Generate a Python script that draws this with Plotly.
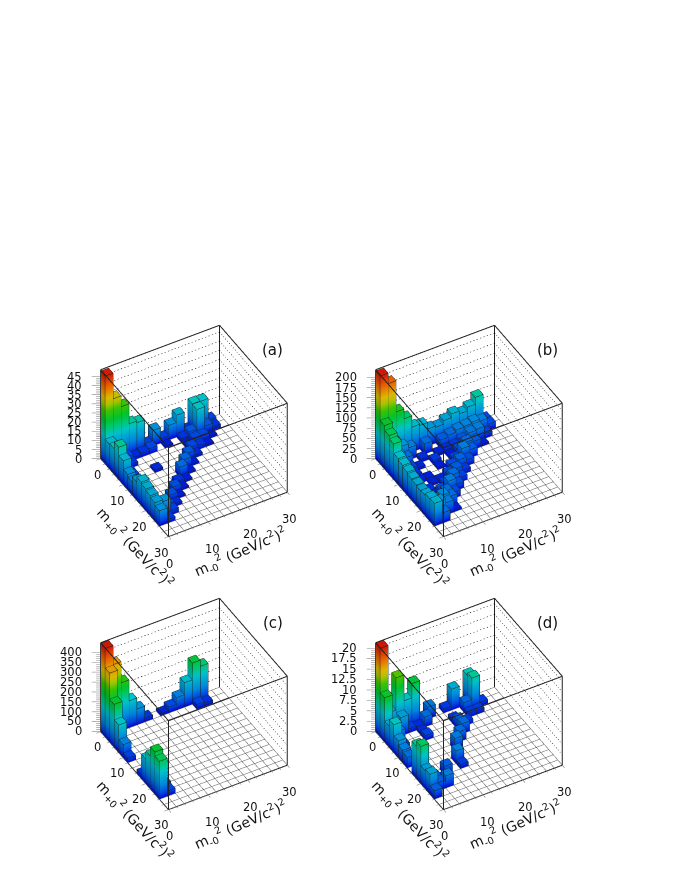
import math
import plotly.graph_objects as go

W, H = 674, 872
BIN = 2.0
N = 15

ZMAX_A, ZMAX_B, ZMAX_C, ZMAX_D = 48.7, 218.8, 448.0, 21.3
ZT_A = [0, 5, 10, 15, 20, 25, 30, 35, 40, 45]
ZT_B = [0, 25, 50, 75, 100, 125, 150, 175, 200]
ZT_C = [0, 50, 100, 150, 200, 250, 300, 350, 400]
ZT_D = [0, 2.5, 5, 7.5, 10, 12.5, 15, 17.5, 20]
AXIS_TICKS = [0, 10, 20, 30]
TAGS = ["(a)", "(b)", "(c)", "(d)"]

# rows: m+0 bin, columns: m-0 bin
H_A = [
 [48, 34, 28, 17, 16, 2.5, 8.5, 2.5, 8, 12, 2, 15, 14.7, 3, 0],
 [13.5, 5, 3, 1.5, 2, 3, 0, 1, 0, 2, 4, 14.7, 4, 2, 0],
 [14, 4, 2, 0, 0, 0, 0, 0, 0, 1, 3, 3, 1, 0, 0],
 [17.6, 3, 0, 0, 0, 0, 0, 0, 0, 3, 2, 1, 0, 0, 0],
 [13, 3, 0, 0, 1.5, 0, 0, 0, 4, 1.5, 0, 0, 0, 0, 0],
 [8.4, 2, 0, 0, 0, 0, 0, 5, 1, 0, 0, 0, 0, 0, 0],
 [7, 1, 0, 0, 0, 0, 5.5, 1, 0, 0, 0, 0, 0, 0, 0],
 [10, 1, 0, 0, 0, 2, 1, 0, 0, 0, 0, 0, 0, 0, 0],
 [12.7, 1, 0, 0, 3.5, 1, 0, 0, 0, 0, 0, 0, 0, 0, 0],
 [11.8, 1, 0, 3.5, 1, 0, 0, 0, 0, 0, 0, 0, 0, 0, 0],
 [11, 2, 3, 1.5, 0, 0, 0, 0, 0, 0, 0, 0, 0, 0, 0],
 [10, 9, 2.5, 0, 0, 0, 0, 0, 0, 0, 0, 0, 0, 0, 0],
 [8.4, 2, 0, 0, 0, 0, 0, 0, 0, 0, 0, 0, 0, 0, 0],
 [0]*15, [0]*15,
]
H_B = [
 [216, 190, 113, 89, 61, 58, 42, 39, 48, 57, 50, 59, 76, 14, 0],
 [107, 60, 40, 30, 0, 25, 0, 20, 25, 30, 32, 35, 30, 15, 0],
 [95, 40, 25, 0, 8, 0, 6, 8, 10, 18, 28, 30, 12, 0, 0],
 [87, 28, 12, 6, 0, 10, 0, 5, 15, 25, 20, 5, 0, 0, 0],
 [64, 20, 8, 0, 0, 5, 0, 12, 30, 20, 0, 0, 0, 0, 0],
 [60, 18, 6, 5, 0, 0, 15, 22, 15, 0, 0, 0, 0, 0, 0],
 [56, 15, 0, 5, 6, 15, 20, 10, 0, 0, 0, 0, 0, 0, 0],
 [52, 12, 8, 0, 12, 25, 12, 0, 0, 0, 0, 0, 0, 0, 0],
 [50, 10, 6, 15, 30, 15, 0, 0, 0, 0, 0, 0, 0, 0, 0],
 [48, 15, 15, 25, 15, 0, 0, 0, 0, 0, 0, 0, 0, 0, 0],
 [50, 30, 35, 25, 0, 0, 0, 0, 0, 0, 0, 0, 0, 0, 0],
 [55, 40, 30, 5, 0, 0, 0, 0, 0, 0, 0, 0, 0, 0, 0],
 [56, 25, 0, 0, 0, 0, 0, 0, 0, 0, 0, 0, 0, 0, 0],
 [0]*15, [0]*15,
]
H_C = [
 [445, 349, 242, 136, 80, 20, 0, 12, 30, 63, 123, 207, 176, 0, 0],
 [347, 0, 0, 0, 0, 0, 0, 0, 0, 0, 0, 25, 18, 0, 0],
 [216, 0, 0, 0, 0, 0, 0, 0, 0, 0, 0, 0, 0, 0, 0],
 [138, 0, 0, 0, 0, 0, 0, 0, 0, 0, 0, 0, 0, 0, 0],
 [65, 0, 0, 0, 0, 0, 0, 0, 0, 0, 0, 0, 0, 0, 0],
 [23, 0, 0, 0, 0, 0, 0, 0, 0, 0, 0, 0, 0, 0, 0],
 [0]*15, [0]*15,
 [20, 0, 0, 0, 0, 0, 0, 0, 0, 0, 0, 0, 0, 0, 0],
 [123, 0, 0, 0, 0, 0, 0, 0, 0, 0, 0, 0, 0, 0, 0],
 [165, 0, 0, 0, 0, 0, 0, 0, 0, 0, 0, 0, 0, 0, 0],
 [212, 35, 0, 0, 0, 0, 0, 0, 0, 0, 0, 0, 0, 0, 0],
 [191, 25, 0, 0, 0, 0, 0, 0, 0, 0, 0, 0, 0, 0, 0],
 [0]*15, [0]*15,
]
H_D = [
 [21.2, 5, 12.7, 6.5, 9.9, 0, 2.8, 0, 1, 5, 0, 6.9, 0, 0, 0],
 [10.6, 3, 4.4, 1, 0.7, 2.4, 0, 0, 0, 0, 2.3, 7.5, 1, 0, 0],
 [5, 3, 0, 0, 0.7, 0, 0, 0, 1, 0, 1, 1, 0, 0, 0],
 [6.6, 1, 0, 0, 1.2, 0, 0, 0, 2, 1, 0, 0, 0, 0, 0],
 [4, 0, 0, 0, 0, 0, 0, 0, 2.4, 0, 0, 0, 0, 0, 0],
 [3, 0, 0, 0, 0, 0, 0, 2.4, 0, 0, 0, 0, 0, 0, 0],
 [2.5, 0, 0, 0, 0, 0, 2.8, 0, 0, 0, 0, 0, 0, 0, 0],
 [0, 0, 0, 0, 0, 0, 0, 0, 0, 0, 0, 0, 0, 0, 0],
 [7.7, 0, 0, 0, 0, 3, 0, 0, 0, 0, 0, 0, 0, 0, 0],
 [8.9, 1, 0, 2, 0, 1, 0, 0, 0, 0, 0, 0, 0, 0, 0],
 [4.3, 2, 1, 0, 0, 0, 0, 0, 0, 0, 0, 0, 0, 0, 0],
 [4.7, 2, 2.9, 0, 0, 0, 0, 0, 0, 0, 0, 0, 0, 0, 0],
 [2, 0, 0, 0, 0, 0, 0, 0, 0, 0, 0, 0, 0, 0, 0],
 [0]*15, [0]*15,
]

PANELS = [
    (H_A, ZMAX_A, ZT_A, TAGS[0], (193.5, 431.0)),
    (H_B, ZMAX_B, ZT_B, TAGS[1], (468.5, 431.0)),
    (H_C, ZMAX_C, ZT_C, TAGS[2], (193.5, 703.7)),
    (H_D, ZMAX_D, ZT_D, TAGS[3], (468.5, 703.7)),
]

RAMP = [(0.0, (0, 10, 205)), (0.05, (0, 65, 225)), (0.15, (0, 135, 220)), (0.3, (0, 195, 200)), (0.39, (0, 200, 115)),
        (0.47, (0, 195, 50)), (0.58, (60, 195, 0)), (0.66, (170, 195, 0)), (0.73, (220, 185, 0)), (0.85, (235, 105, 0)), (1.0, (205, 20, 5))]

def scale(f):
    return [[p, "rgb(%d,%d,%d)" % tuple(min(255, int(c * f)) for c in col)] for p, col in RAMP]

AZ = math.radians(29.7)
EL = math.radians(41.0)
DIST = 2.0
ZOOM = 1.263
ZRATIO = 0.861
PAD = 3.0
SIDE = 260.0
DOT_STEP = 0.85
DOT_LEN = 0.3

fig = go.Figure()
layout_scenes = {}
paper_notes = []

def quad_mesh(quads, zmax, shade, scene):
    xs, ys, zs, a, b, c = [], [], [], [], [], []
    for q in quads:
        n = len(xs)
        for p in q:
            xs.append(p[0]); ys.append(p[1]); zs.append(p[2])
        a += [n, n]; b += [n + 1, n + 2]; c += [n + 2, n + 3]
    fig.add_trace(go.Mesh3d(x=xs, y=ys, z=zs, i=a, j=b, k=c, intensity=zs, cmin=0, cmax=zmax,
                            colorscale=scale(shade), showscale=False, flatshading=True, hoverinfo="skip",
                            lighting=dict(ambient=1, diffuse=0, specular=0, roughness=1, fresnel=0),
                            scene=scene))

def lines(segs, color, width, scene):
    xs, ys, zs = [], [], []
    for p, q in segs:
        xs += [p[0], q[0], None]; ys += [p[1], q[1], None]; zs += [p[2], q[2], None]
    fig.add_trace(go.Scatter3d(x=xs, y=ys, z=zs, mode="lines", line=dict(color=color, width=width),
                               hoverinfo="skip", scene=scene, showlegend=False))

for idx, (vals, zmax, zticks, tag, centre) in enumerate(PANELS):
    scene = "scene" if idx == 0 else "scene%d" % (idx + 1)
    tops, xfaces, yfaces, edges = [], [], [], []
    e = 0.03
    for i, row in enumerate(vals):
        for j, h in enumerate(row):
            if h <= 0:
                continue
            x0, x1, y0, y1 = i * BIN, (i + 1) * BIN, j * BIN, (j + 1) * BIN
            zt = h - zmax * 0.001
            tops.append([(x0, y0, zt), (x1, y0, zt), (x1, y1, zt), (x0, y1, zt)])
            xfaces.append([(x1 - e, y0, 0), (x1 - e, y1, 0), (x1 - e, y1, zt), (x1 - e, y0, zt)])
            yfaces.append([(x0, y0 + e, 0), (x1, y0 + e, 0), (x1, y0 + e, zt), (x0, y0 + e, zt)])
            c = [(x0, y0), (x1, y0), (x1, y1), (x0, y1)]
            for k in range(4):
                a_, b_ = c[k], c[(k + 1) % 4]
                edges.append(((a_[0], a_[1], h), (b_[0], b_[1], h)))
                edges.append(((a_[0], a_[1], 0), (a_[0], a_[1], h)))
    quad_mesh(xfaces, zmax, 1.0, scene)
    quad_mesh(yfaces, zmax, 0.85, scene)
    quad_mesh(tops, zmax, 1.0, scene)
    lines(edges, "#1c1c1c", 1, scene)

    grid = []
    for k in range(N + 1):
        v = k * BIN
        grid.append(((v, 0, 0), (v, 30, 0)))
        grid.append(((0, v, 0), (30, v, 0)))
    lines(grid, "#5c5c5c", 1, scene)

    dots = []
    for t in zticks[1:]:
        s = 0.0
        while s < 30:
            dots.append(((0, s, t), (0, s + DOT_LEN, t)))
            dots.append(((s, 30, t), (s + DOT_LEN, 30, t)))
            s += DOT_STEP
    lines(dots, "#000000", 1, scene)

    box = [((0, 0, zmax), (0, 30, zmax)), ((0, 30, zmax), (30, 30, zmax)), ((0, 30, 0), (0, 30, zmax)),
           ((0, 0, zmax), (30, 0, zmax)), ((30, 0, zmax), (30, 30, zmax)), ((30, 0, 0), (30, 0, zmax)),
           ((30, 30, 0), (30, 30, zmax)), ((0, 0, 0), (0, 0, zmax)),
           ((0, 0, 0), (30, 0, 0)), ((30, 0, 0), (30, 30, 0))]
    lines(box, "#222222", 2, scene)

    ticks = []
    for k in range(N + 1):
        v = k * BIN
        long_ = v in AXIS_TICKS
        d = 0.9 if long_ else 0.5
        ticks.append(((v, 0, 0), (v, -d * 1.2, 0)))
        ticks.append(((30, v, 0), (30 + d * 1.2, v, 0)))
    zstep = zticks[1] - zticks[0]
    for t in zticks:
        ticks.append(((0, 0, t), (-0.98, -1.7, t)))
    for t in zticks[:-1]:
        for m in range(1, 5):
            z_ = t + m * zstep / 5
            ticks.append(((0, 0, z_), (-0.5, -0.85, z_)))
    lines(ticks, "#777777", 1, scene)

    notes = []
    for t in zticks:
        notes.append(dict(x=0, y=0, z=t, text=("%g" % t), showarrow=False, xanchor="right", xshift=-16, font=dict(size=11.5)))
    for t, dx in zip(AXIS_TICKS, (-3, -5, -6, -6)):
        notes.append(dict(x=t, y=0, z=0, text=str(t), showarrow=False, xshift=dx, yshift=-16, font=dict(size=11.5)))
    for t, dx in zip(AXIS_TICKS, (2, 5, 3, 3)):
        notes.append(dict(x=30, y=t, z=0, text=str(t), showarrow=False, xshift=dx, yshift=-27, font=dict(size=11.5)))

    cx, cy = centre
    axis = dict(visible=False, showspikes=False)
    rng = [-PAD, 30 + PAD]
    layout_scenes[scene] = dict(
        domain=dict(x=[(cx - SIDE / 2) / W, (cx + SIDE / 2) / W], y=[1 - (cy + SIDE / 2) / H, 1 - (cy - SIDE / 2) / H]),
        xaxis=dict(range=rng, **axis), yaxis=dict(range=rng, **axis),
        zaxis=dict(range=[-0.1 * zmax, 1.1 * zmax], **axis),
        aspectmode="manual", aspectratio=dict(x=ZOOM, y=ZOOM, z=ZRATIO * ZOOM),
        camera=dict(projection=dict(type="orthographic"), up=dict(x=0, y=0, z=1), center=dict(x=0, y=0, z=0),
                    eye=dict(x=DIST * math.cos(EL) * math.cos(AZ), y=-DIST * math.cos(EL) * math.sin(AZ), z=DIST * math.sin(EL))),
        annotations=notes, bgcolor="rgba(0,0,0,0)",
    )

    paper_notes.append(dict(x=(cx + 79) / W, y=1 - (cy - 81) / H, text=tag, font=dict(size=15)))
    paper_notes.append(dict(x=(cx - 58.5) / W, y=1 - (cy + 117) / H, textangle=47,
                            text="m<sub>+0</sub><sup>2</sup> (GeV/c<sup>2</sup>)<sup>2</sup>", font=dict(size=14)))
    paper_notes.append(dict(x=(cx + 46.5) / W, y=1 - (cy + 121) / H, textangle=-24,
                            text="m<sub>-0</sub><sup>2</sup> (GeV/c<sup>2</sup>)<sup>2</sup>", font=dict(size=14)))

for n in paper_notes:
    n.update(xref="paper", yref="paper", showarrow=False, xanchor="center", yanchor="middle")

fig.update_layout(width=W, height=H, margin=dict(l=0, r=0, t=0, b=0), showlegend=False, paper_bgcolor="white",
                  font=dict(family="DejaVu Sans", color="#111111"), annotations=paper_notes, **layout_scenes)
fig.write_html("out.html", config=dict(displayModeBar=False), post_script="document.body.style.margin='0';")
